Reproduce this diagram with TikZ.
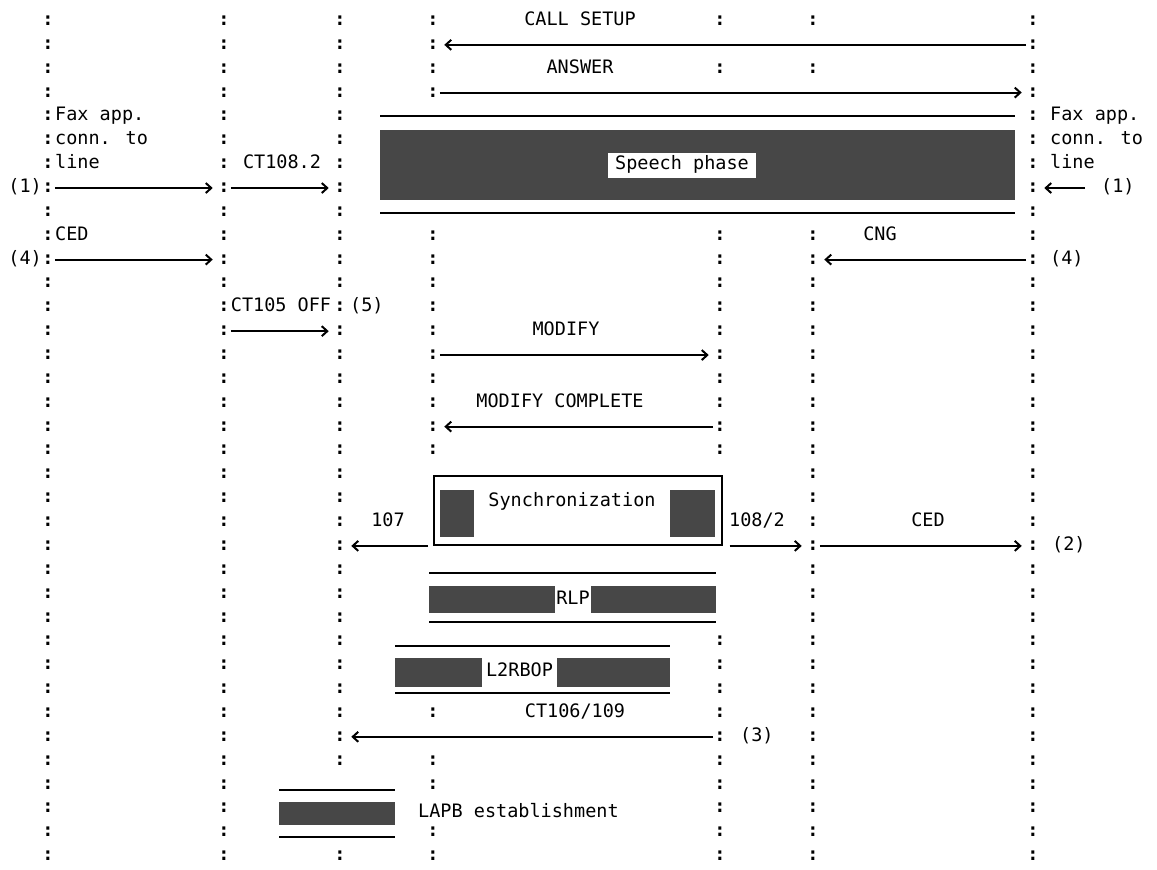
\documentclass[tikz,border=0pt]{standalone}
\usepackage{fontspec}
\newfontfamily\dmono{DejaVu Sans Mono}
\usetikzlibrary{arrows.meta}
\begin{document}
\begin{tikzpicture}[x=1pt,y=-23.86pt,
  txt/.style={font=\dmono\fontsize{18.5pt}{20pt}\selectfont, inner sep=0pt, text height=13pt, text depth=4pt},
  col/.style={txt, font=\dmono\bfseries\fontsize{18.5pt}{20pt}\selectfont, inner xsep=1pt},
  arr/.style={-{Straight Barb[length=5.5pt,width=10pt]}, line width=2pt, shorten >=4.5pt},
  bar/.style={fill=black!72},
  rule/.style={line width=2pt}
]
\useasboundingbox (0,-0.880) rectangle (1157,35.541);

% lifelines made of colons
\foreach \r in {0,...,35}{
  \node[col] (A\r) at (48,\r) {:};
  \node[col] (B\r) at (224,\r) {:};
  \node[col] (G\r) at (1033,\r) {:};
}
\foreach \r in {0,1,2,3,4,5,6,7,8,9,10,11,12,13,14,15,16,17,18,19,20,21,22,23,24,25,26,27,28,29,30,31,35}
  \node[col] (C\r) at (340,\r) {:};
\foreach \r in {0,1,2,3,9,10,11,12,13,14,15,16,17,18,29,31,32,34,35}
  \node[col] (D\r) at (433,\r) {:};
\foreach \r in {0,2,9,10,11,12,13,14,15,16,17,18,26,27,28,29,30,31,32,33,34,35}
  \node[col] (E\r) at (720,\r) {:};
\foreach \r in {0,2,9,10,11,12,13,14,15,16,17,18,19,20,21,22,23,24,25,26,27,28,29,30,31,32,33,34,35}
  \node[col] (F\r) at (813,\r) {:};

% call setup / answer
\node[txt] (lcall) at (580,0) {CALL SETUP};
\draw[arr] (G1.west) -- (D1.east);
\node[txt] (lans) at (580,2) {ANSWER};
\draw[arr] (D3.east) -- (G3.west);

% speech phase
\draw[rule] (380,3.97) -- (1015,3.97);
\fill[bar] (380,4.55) rectangle (1015,7.52);
\draw[rule] (380,8.03) -- (1015,8.03);
\node[txt, fill=white, inner xsep=7pt, inner ysep=4pt] (speech) at (682,6.05) {Speech phase};

% left fax
\node[txt, anchor=west] (lfax1) at (55,4) {Fax app.};
\node[txt, anchor=west] (lfax2) at (55,5) {conn. to};
\node[txt, anchor=west] (lfax3) at (55,6) {line};
\node[txt] (lct1082) at (282,6) {CT108.2};
\node[txt, anchor=east] (l1a) at (42,7) {(1)};
\draw[arr] (A7.east) -- (B7.west);
\draw[arr] (B7.east) -- (C7.west);

% right fax
\node[txt, anchor=west] (rfax1) at (1050,4) {Fax app.};
\node[txt, anchor=west] (rfax2) at (1050,5) {conn. to};
\node[txt, anchor=west] (rfax3) at (1050,6) {line};
\coordinate (e7) at (1085,7);
\draw[arr] (e7) -- (G7.east);
\node[txt, anchor=west] (l1b) at (1101,7) {(1)};

% CED / CNG
\node[txt, anchor=west] (lced) at (55,9) {CED};
\node[txt, anchor=east] (l4a) at (42,10) {(4)};
\draw[arr] (A10.east) -- (B10.west);
\node[txt] (lcng) at (880,9) {CNG};
\draw[arr] (G10.west) -- (F10.east);
\node[txt, anchor=west] (l4b) at (1050,10) {(4)};

% CT105
\node[txt] (lct105) at (281,12) {CT105 OFF};
\node[txt, anchor=west] (l5) at (350,12) {(5)};
\draw[arr] (B13.east) -- (C13.west);

% modify
\node[txt] (lmod) at (566,13) {MODIFY};
\draw[arr] (D14.east) -- (E14.west);
\node[txt] (lmodc) at (560,16) {MODIFY COMPLETE};
\draw[arr] (E17.west) -- (D17.east);

% synchronization
\node[draw, line width=1.6pt, minimum width=288pt, minimum height=69pt, inner sep=0pt, anchor=south west] (sync) at (433,22) {};
\fill[bar] (440,19.67) rectangle (474,21.63);
\fill[bar] (670,19.67) rectangle (715,21.63);
\node[txt] (lsync) at (572,20.17) {Synchronization};
\node[txt] (l107) at (388,21) {107};
\node[txt] (l1082) at (757,21) {108/2};
\node[txt] (lced2) at (928,21) {CED};
\draw[arr, shorten <=5pt] (sync.west |- C22.east) -- (C22.east);
\draw[arr, shorten <=7pt] (sync.east |- F22.west) -- (F22.west);
\draw[arr] (F22.east) -- (G22.west);
\node[txt, anchor=west] (l2) at (1052,22) {(2)};

% RLP
\draw[rule] (429,23.14) -- (716,23.14);
\fill[bar] (429,23.68) rectangle (555,24.81);
\fill[bar] (591,23.68) rectangle (716,24.81);
\draw[rule] (429,25.19) -- (716,25.19);
\node[txt] (lrlp) at (573,24.25) {RLP};

% L2RBOP
\draw[rule] (395,26.19) -- (670,26.19);
\fill[bar] (395,26.69) rectangle (482,27.9);
\fill[bar] (557,26.69) rectangle (670,27.9);
\draw[rule] (395,28.16) -- (670,28.16);
\node[txt] (ll2r) at (519.5,27.3) {L2RBOP};

% CT106/109
\node[txt] (lct106) at (575,29) {CT106/109};
\draw[arr] (E30.west) -- (C30.east);
\node[txt, anchor=west] (l3) at (740,30) {(3)};

% LAPB
\draw[rule] (279,32.22) -- (395,32.22);
\fill[bar] (279,32.72) rectangle (395,33.68);
\draw[rule] (279,34.18) -- (395,34.18);
\node[txt, anchor=west] (llapb) at (418,33.18) {LAPB establishment};
\end{tikzpicture}
\end{document}
